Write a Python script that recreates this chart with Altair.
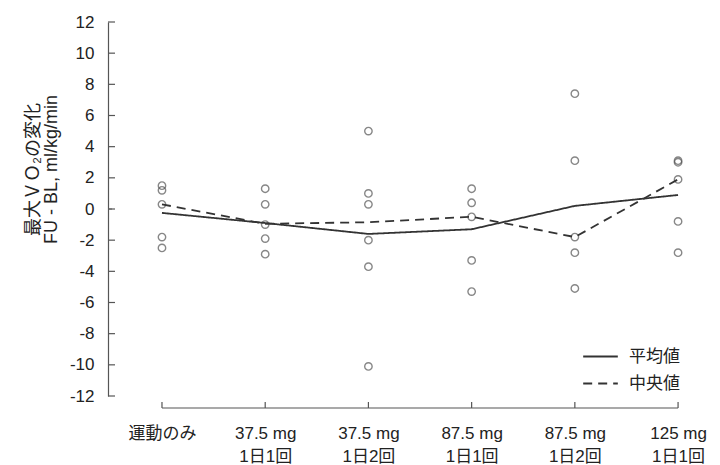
import json
import altair as alt
import pandas as pd

# ---- data ----
cat_line1 = ["運動のみ", "37.5 mg", "37.5 mg", "87.5 mg", "87.5 mg", "125 mg"]
cat_line2 = ["", "1日1回", "1日2回", "1日1回", "1日2回", "1日1回"]

g0 = [1.5, 1.2, 0.3, -1.8, -2.5]
g1 = [1.3, 0.3, -1.0, -1.9, -2.9]
g2 = [5.0, 1.0, 0.3, -2.0, -3.7, -10.1]
g3 = [1.3, 0.4, -0.5, -3.3, -5.3]
g4 = [7.4, 3.1, -1.8, -2.8, -5.1]
g5 = [3.1, 3.0, 1.9, -0.8, -2.8]
groups = [g0, g1, g2, g3, g4, g5]

mean_vals = [-0.25, -0.9, -1.6, -1.3, 0.2, 0.9]
median_vals = [0.3, -0.95, -0.85, -0.5, -1.8, 1.9]

series_names = ["平均値", "中央値"]
y_ticks = list(range(-12, 13, 2))

FONT = "Liberation Sans, Arial, Noto Sans CJK JP, sans-serif"
INK = "#333333"

pts = pd.DataFrame([{"i": i, "v": v} for i, g in enumerate(groups) for v in g])
lines = pd.DataFrame(
    [{"i": i, "v": v, "s": series_names[0]} for i, v in enumerate(mean_vals)]
    + [{"i": i, "v": v, "s": series_names[1]} for i, v in enumerate(median_vals)]
)
cats = pd.DataFrame({"i": list(range(len(cat_line1)))})
ytick_df = pd.DataFrame({"v": y_ticks})
xaxis_df = pd.DataFrame({"i": [0], "i2": [len(cat_line1) - 1]})
zero_df = pd.DataFrame({"v": [0]})

W, H = 600, 374
xscale = alt.Scale(domain=[-0.523, 5.29], nice=False, zero=False)
yscale = alt.Scale(domain=[-12, 12], nice=False, zero=False)

label_arr = json.dumps([[a, b] for a, b in zip(cat_line1, cat_line2)], ensure_ascii=False)

X = alt.X(
    "i:Q",
    scale=xscale,
    axis=alt.Axis(
        values=list(range(len(cat_line1))),
        labelExpr=f"{label_arr}[datum.value]",
        domain=False, ticks=False, tickSize=0, grid=False,
        labelPadding=29, labelFontSize=17, labelLineHeight=23,
        labelFont=FONT, labelColor="#222", labelBaseline="top",
        labelFlush=False, labelOverlap=False, title=None,
    ),
)
Y = alt.Y(
    "v:Q",
    scale=yscale,
    axis=alt.Axis(
        values=y_ticks, domain=True, domainColor="#555", domainWidth=1.2,
        ticks=False, tickSize=0, grid=False,
        labelExpr="datum.value + ''",
        labelPadding=14, labelFontSize=17, labelFont=FONT, labelColor="#222",
        title=["最大ＶＯ₂の変化", "FU - BL, ml/kg/min"],
        titleFont=FONT, titleFontSize=18, titleFontWeight="normal", titleColor="#222",
        titleX=-75, titleY=147, titleAlign="center", titleBaseline="middle",
        titleLineHeight=18,
    ),
)

zero_line = alt.Chart(zero_df).mark_rule(color="#666", strokeWidth=1, strokeDash=[4, 3]).encode(
    y=Y, x=alt.value(0), x2=alt.datum(5)
)

y_ticks_marks = alt.Chart(ytick_df).mark_rule(color="#555", strokeWidth=1.2).encode(
    y=Y, x=alt.value(0), x2=alt.value(7)
)

x_axis_line = alt.Chart(xaxis_df).mark_rule(color="#555", strokeWidth=1.2).encode(
    x=X, x2="i2:Q", y=alt.value(H + 12)
)
x_ticks_marks = alt.Chart(cats).mark_rule(color="#555", strokeWidth=1.2).encode(
    x=X, y=alt.value(H + 12), y2=alt.value(H + 6)
)

points = alt.Chart(pts).mark_point(
    shape="circle", filled=False, size=55, stroke="#555", strokeWidth=1.4
).encode(x=X, y=Y)

line_layer = alt.Chart(lines).mark_line(color=INK, strokeWidth=1.8).encode(
    x=X,
    y=Y,
    detail="s:N",
    strokeDash=alt.StrokeDash(
        "s:N",
        scale=alt.Scale(domain=series_names, range=[[1, 0], [9, 6]]),
        legend=alt.Legend(
            title=None, orient="none", legendX=474, legendY=316,
            symbolType="stroke", symbolSize=1200, symbolStrokeColor=INK,
            symbolStrokeWidth=1.8, labelFontSize=17, labelFont=FONT,
            labelColor="#222", rowPadding=-19, labelOffset=10,
        ),
    ),
)

chart = (
    alt.layer(zero_line, y_ticks_marks, x_axis_line, x_ticks_marks, points, line_layer)
    .properties(
        width=W, height=H, autosize="none",
        padding={"left": 100, "top": 14, "right": 4, "bottom": 68},
        background="white",
    )
    .configure_view(stroke=None)
)

chart.save("out.html", embed_options={"renderer": "svg", "actions": False})
